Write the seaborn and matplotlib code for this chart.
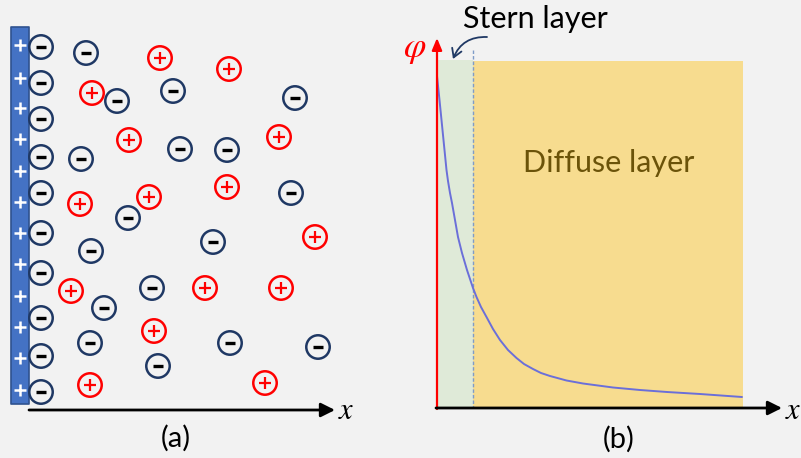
import matplotlib
matplotlib.use("Agg")
import matplotlib.pyplot as plt
import seaborn as sns
import pandas as pd

# ---------------- data (diagram positions, pixel units) ----------------
wall_plus_y = [45, 78, 108, 139, 171, 202, 233, 264, 296, 327, 358, 390]
wall_anion_y = [47, 83, 119, 157, 193, 233, 273, 318, 356, 392]

anion_x = [86, 117, 173, 295, 81, 180, 227, 291, 128, 91, 213, 152, 104, 90, 230, 158, 318]
anion_y = [53, 101, 91, 98, 159, 149, 150, 193, 218, 251, 242, 288, 308, 343, 343, 366, 347]

cation_x = [160, 229, 92, 129, 279, 149, 227, 80, 315, 71, 205, 281, 154, 90, 265]
cation_y = [58, 69, 93, 140, 137, 197, 187, 204, 237, 291, 288, 288, 331, 385, 383]

curve_x = [437, 439.5, 442, 444.5, 446.5, 448, 450, 452, 455, 458, 462, 467, 470, 473,
           476.5, 481, 486.5, 493, 500, 508, 516.5, 524, 533, 541, 550, 566.5,
           583, 613, 640, 667, 700, 742]
curve_phi = [76, 100, 125, 150, 170, 181, 193, 203, 220, 237, 253, 270, 279, 288,
             297, 307, 317, 329, 340, 350, 358, 364, 369, 373, 376, 380.5,
             383.5, 387.5, 390, 392, 394, 397]

stern_x = [437, 473]
diffuse_x = [473, 743]
layer_top = [60, 61]
layer_bottom = 408

labels = {"stern": "Stern layer", "diffuse": "Diffuse layer", "a": "(a)", "b": "(b)"}

# ---------------- figure ----------------
sns.set_theme(style="white")
plt.rcParams["font.family"] = ["Lato", "DejaVu Sans"]
plt.rcParams["mathtext.fontset"] = "stix"

BG = "#F2F2F2"
fig = plt.figure(figsize=(8.01, 4.58), dpi=100, facecolor=BG)
ax = fig.add_axes([0, 0, 1, 1])
ax.set_facecolor(BG)
ax.set_xlim(0, 801)
ax.set_ylim(458, 0)
ax.axis("off")

# ---- panel (a) ----
# charged wall
ax.fill_betweenx([27, 404], 11, 29, color="#4472C4", edgecolor="#2F528F", lw=1.2, zorder=2)
wall_x = 20
sns.scatterplot(x=[wall_x] * len(wall_plus_y), y=wall_plus_y, marker="+", s=85,
                color="white", linewidth=1.8, ax=ax, zorder=3, legend=False)

anions = pd.DataFrame({"x": anion_x + [41] * len(wall_anion_y),
                       "y": anion_y + wall_anion_y})
cations = pd.DataFrame({"x": cation_x, "y": cation_y})

sns.scatterplot(data=anions, x="x", y="y", marker="o", s=285, facecolor="none",
                edgecolor="#1F3864", linewidth=1.8, ax=ax, zorder=4, legend=False)
sns.scatterplot(data=anions, x="x", y="y", marker="_", s=50, color="black",
                linewidth=2.4, ax=ax, zorder=5, legend=False)
sns.scatterplot(data=cations, x="x", y="y", marker="o", s=285, facecolor="none",
                edgecolor="#FF0000", linewidth=1.8, ax=ax, zorder=4, legend=False)
sns.scatterplot(data=cations, x="x", y="y", marker="+", s=80, color="#FF0000",
                linewidth=1.6, ax=ax, zorder=5, legend=False)

ax.annotate("", xy=(335, 410), xytext=(29, 410),
            arrowprops=dict(arrowstyle="-|>,head_length=0.7,head_width=0.35",
                            color="black", lw=2.0, shrinkA=0, shrinkB=0), zorder=3)
ax.text(346, 410, "$x$", fontsize=22, ha="center", va="center", color="black")
ax.text(176, 438, labels["a"], fontsize=21, ha="center", va="center", color="black")

# ---- panel (b) ----
ax.fill_between(stern_x, [layer_top[0]] * 2, layer_bottom, color="#DFEAD8", lw=0, zorder=1)
ax.fill_between(diffuse_x, [layer_top[1]] * 2, layer_bottom, color="#F7DC8F", lw=0, zorder=1)
ax.plot([stern_x[1], stern_x[1]], [50, layer_bottom], color="#7F9CC8", lw=1.0,
        ls=(0, (2.5, 1.5)), zorder=2)

sns.lineplot(x=curve_x, y=curve_phi, sort=False, color="#6B6FD9", lw=1.4, ax=ax, zorder=3)

ax.annotate("", xy=(437, 38), xytext=(437, 409),
            arrowprops=dict(arrowstyle="-|>,head_length=0.6,head_width=0.25",
                            color="#FF0000", lw=1.6, shrinkA=0, shrinkB=0), zorder=4)
ax.annotate("", xy=(782, 408), xytext=(436, 408),
            arrowprops=dict(arrowstyle="-|>,head_length=0.7,head_width=0.35",
                            color="black", lw=2.0, shrinkA=0, shrinkB=0), zorder=4)
ax.text(415, 50, r"$\varphi$", fontsize=26, ha="center", va="center", color="#FF0000")
ax.text(793, 410, "$x$", fontsize=22, ha="center", va="center", color="black")

ax.text(535, 19, labels["stern"], fontsize=22, ha="center", va="center", color="black")
ax.annotate("", xy=(453, 59), xytext=(487, 37),
            arrowprops=dict(arrowstyle="->,head_length=0.5,head_width=0.3",
                            color="#1F3864", lw=1.3,
                            connectionstyle="arc3,rad=0.35", shrinkA=0, shrinkB=0), zorder=5)
ax.text(609, 163, labels["diffuse"], fontsize=22, ha="center", va="center", color="#6B5309")
ax.text(619, 439, labels["b"], fontsize=21, ha="center", va="center", color="black")

fig.savefig("out.png", dpi=100, facecolor=BG)
